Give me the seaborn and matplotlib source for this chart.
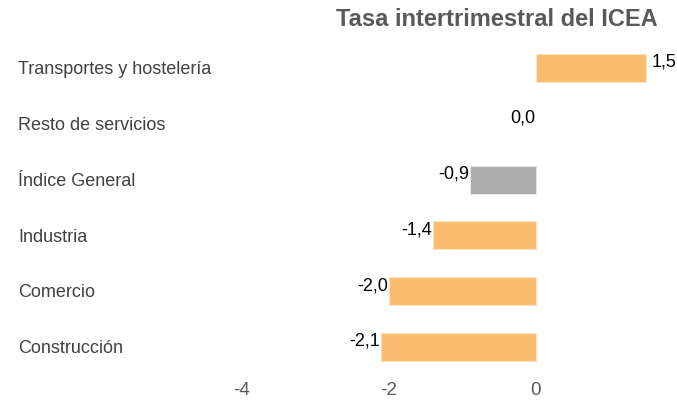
"""Tasa intertrimestral del ICEA por sectores."""

import matplotlib
matplotlib.use('Agg')
import matplotlib.pyplot as plt
import matplotlib.transforms as mtransforms
import pandas as pd
import seaborn as sns


SECTORES = ['Transportes y hostelería', 'Resto de servicios', 'Índice General',
            'Industria', 'Comercio', 'Construcción']
TASAS = [1.5, 0.0, -0.9, -1.4, -2.0, -2.1]
ES_GENERAL = [False, False, True, False, False, False]
TICKS = [-4, -2, 0]

NARANJA = '#F8BB6D'
GRIS = '#ADADAD'
TXT_GRIS = '#404040'


def main():
    sns.set_theme(style='white')
    plt.rcParams['font.family'] = ['Liberation Sans', 'DejaVu Sans']

    df = pd.DataFrame({'sector': SECTORES, 'tasa': TASAS, 'general': ES_GENERAL})
    colores = [GRIS if g else NARANJA for g in df['general']]

    fig = plt.figure(figsize = (6.77, 4.0), dpi = 100)
    ax = fig.add_axes([200 / 677, 25 / 400, 467 / 677, 335 / 400])

    sns.barplot(data = df, x = 'tasa', y = 'sector', hue = 'sector',
                palette = colores, legend = False, width = 0.5, saturation = 1,
                linewidth = 0.8, ax = ax)
    for p, c, v in zip(ax.patches, colores, TASAS):
        p.set_edgecolor('#E4E4E4' if c == GRIS else '#FDE3C2')
        if v == 0:
            p.set_linewidth(0)

    ax.set_xlim(-4.56, 1.78)
    ax.set_xticks(TICKS)
    ax.set_xticklabels([str(t) for t in TICKS], fontsize = 13.5, color = '#595959')
    ax.tick_params(axis = 'x', length = 0, pad = 5)
    ax.set_yticks([])
    ax.set_xlabel('')
    ax.set_ylabel('')
    sns.despine(ax = ax, left = True, bottom = True)

    trans = mtransforms.blended_transform_factory(fig.transFigure, ax.transData)
    for i, (sector, v) in enumerate(zip(SECTORES, TASAS)):
        ax.text(18 / 677, i + 0.03, sector, transform = trans, ha = 'left', va = 'center',
                fontsize = 13, color = TXT_GRIS)
        etiqueta = f'{v:.1f}'.replace('.', ',')
        if v > 0:
            ax.text(v + 0.07, i - 0.1, etiqueta, ha = 'left', va = 'center',
                    fontsize = 13, color = 'black')
        else:
            ax.text(v - 0.01, i - 0.1, etiqueta, ha = 'right', va = 'center',
                    fontsize = 13, color = 'black')

    fig.text(497 / 677, 1 - 20 / 400, 'Tasa intertrimestral del ICEA',
             ha = 'center', va = 'center', fontsize = 17, fontweight = 'bold',
             color = '#595959')

    fig.savefig('out.png', dpi = 100)
    plt.close(fig)


if __name__ == '__main__':
    main()
